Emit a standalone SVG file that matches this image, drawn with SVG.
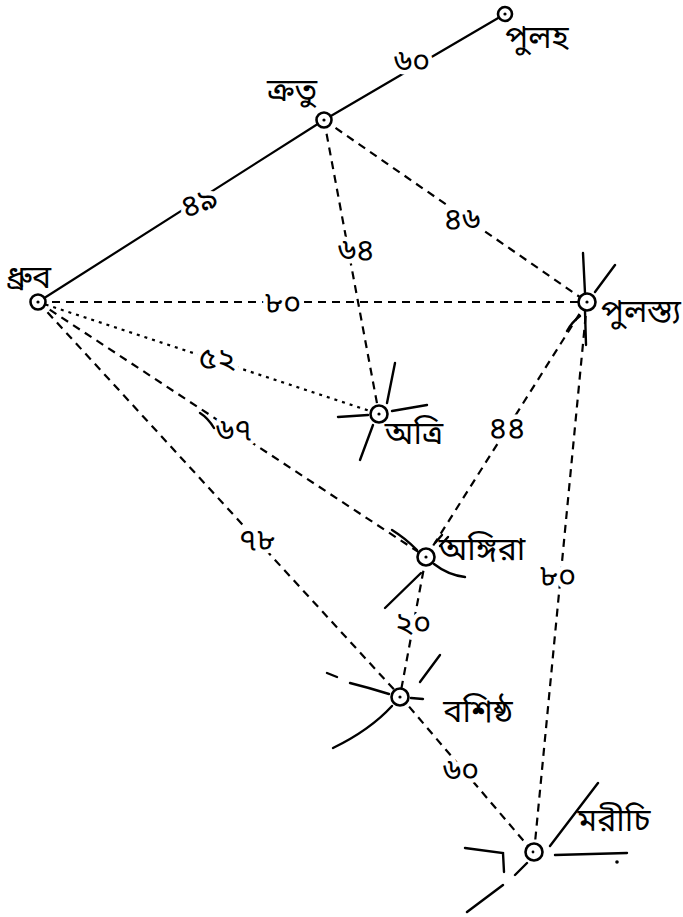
<svg xmlns="http://www.w3.org/2000/svg" width="683" height="917" viewBox="0 0 683 917">
<style>
.solid{stroke:#000;stroke-width:2.2;fill:none;stroke-linecap:round}
.dash{stroke:#000;stroke-width:2.2;fill:none;stroke-dasharray:8 6}
.dot{stroke:#000;stroke-width:2.2;fill:none;stroke-dasharray:3 5}
.ray{stroke:#000;stroke-width:2.4;fill:none;stroke-linecap:round}
.star{stroke:#000;stroke-width:2.6;fill:#fff}
.lbl{font-family:"Noto Sans Bengali","Noto Sans","DejaVu Sans",sans-serif;font-size:32px;fill:#000;text-anchor:middle;dominant-baseline:central}
.num{font-family:"Noto Sans Bengali","Noto Sans","DejaVu Sans",sans-serif;font-size:31px;fill:#000;text-anchor:middle;dominant-baseline:central;stroke:#fff;stroke-width:9;paint-order:stroke;stroke-linejoin:round}
</style>
<g id="connectors">
<line class="solid" x1="38" y1="302" x2="324" y2="120"/>
<line class="solid" x1="324" y1="120" x2="505" y2="14"/>
<line class="dash" x1="324" y1="120" x2="379" y2="414"/>
<line class="dash" x1="324" y1="120" x2="587" y2="302"/>
<line class="dash" x1="38" y1="302" x2="587" y2="302"/>
<line class="dot" x1="38" y1="302" x2="379" y2="414"/>
<line class="dash" x1="38" y1="302" x2="426" y2="557"/>
<line class="dash" x1="38" y1="302" x2="400" y2="696"/>
<line class="dash" x1="587" y1="302" x2="426" y2="557"/>
<line class="dash" x1="587" y1="302" x2="534" y2="853"/>
<line class="dash" x1="426" y1="557" x2="400" y2="696"/>
<line class="dash" x1="400" y1="696" x2="534" y2="853"/>
<text class="num" x="412" y="63">৬০</text>
<text class="num" x="200" y="205" transform="rotate(-20 200 205)">৪৯</text>
<text class="num" x="356" y="252">৬৪</text>
<text class="num" x="462" y="221">৪৬</text>
<text class="num" x="283" y="305">৮০</text>
<text class="num" x="217" y="361">৫২</text>
<text class="num" x="234" y="432">৬৭</text>
<path class="ray" d="M200 413 Q208 418 214 428" stroke-width="2"/>
<text class="num" x="257" y="542">৭৮</text>
<text class="num" x="507" y="430">৪৪</text>
<text class="num" x="558" y="578">৮০</text>
<text class="num" x="413" y="625">২০</text>
<text class="num" x="461" y="772">৬০</text>
</g>
<g id="pulaha">
<circle class="star" cx="505" cy="14" r="7"/><circle cx="505" cy="14" r="1.6"/>
<text class="lbl" x="537" y="40">পুলহ</text>
</g>
<g id="kratu">
<circle class="star" cx="324" cy="120" r="7.5"/><circle cx="324" cy="120" r="1.6"/>
<text class="lbl" x="292" y="93">ক্রতু</text>
</g>
<g id="dhruva">
<circle class="star" cx="38" cy="302" r="7.5"/><circle cx="38" cy="302" r="1.6"/>
<text class="lbl" x="29" y="280">ধ্রুব</text>
</g>
<g id="pulastya">
<path class="ray" d="M583 253 L585 293 M585 311 L586 345 M595 292 L615 265 M580 316 Q572 322 567 331"/>
<circle class="star" cx="587" cy="302" r="8.5"/><circle cx="587" cy="302" r="1.6"/>
<text class="lbl" x="641" y="314">পুলস্ত্য</text>
</g>
<g id="atri">
<path class="ray" d="M395 363 L387 403 M392 411 L427 405 M338 417 L368 415 M373 425 L360 460"/>
<circle class="star" cx="379" cy="414" r="8.5"/><circle cx="379" cy="414" r="1.6"/>
<text class="lbl" x="414" y="436">অত্রি</text>
</g>
<g id="angira">
<path class="ray" d="M392 530 Q405 538 417 550 M434 564 Q448 575 465 577 M421 573 L385 608 M435 543 L442 535 M440 546 L448 537"/>
<circle class="star" cx="426" cy="557" r="8.5"/><circle cx="426" cy="557" r="1.6"/>
<text class="lbl" x="482" y="552">অঙ্গিরা</text>
</g>
<g id="vashishtha">
<path class="ray" d="M327 673 L337 677 M350 683 Q370 688 389 694 M420 682 L440 655 M411 698 L423 699 M392 706 Q370 730 333 748"/>
<circle class="star" cx="400" cy="697" r="8.5"/><circle cx="400" cy="697" r="1.6"/>
<text class="lbl" x="478" y="714">বশিষ্ঠ</text>
</g>
<g id="marichi">
<path class="ray" d="M550 846 L598 783 M555 855 L627 853 M465 848 L503 853 L504 872 M527 863 L515 875 M503 885 L467 912"/>
<circle cx="617" cy="862" r="1.8"/>
<circle class="star" cx="534" cy="852" r="8.5"/><circle cx="533" cy="852" r="1.4"/>
<text class="lbl" x="614" y="823">মরীচি</text>
</g>
</svg>
